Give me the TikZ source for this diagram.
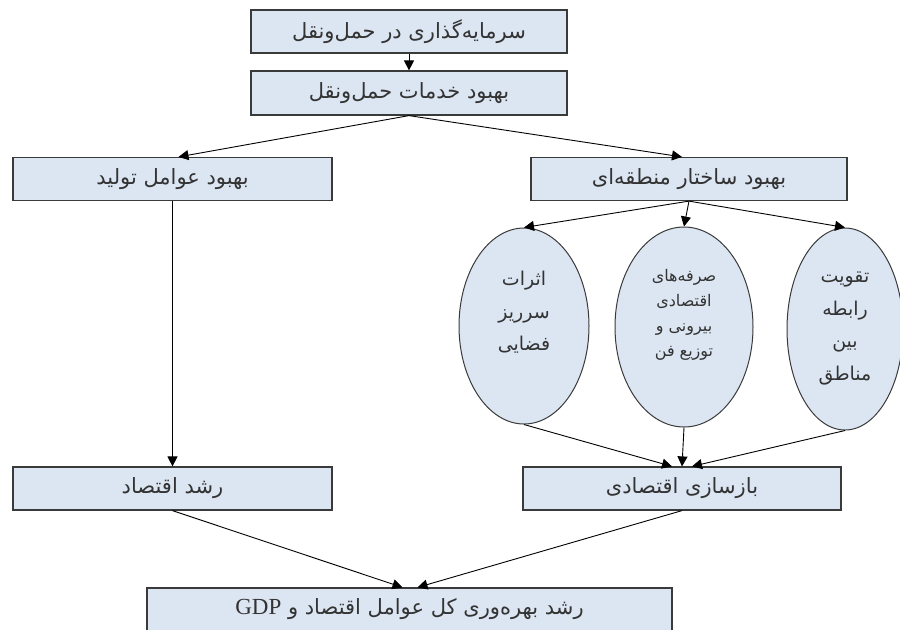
\documentclass[tikz,border=0pt]{standalone}
\usepackage{fontspec}
\setmainfont{Liberation Serif}
\newfontfamily\farsifont[Script=Arabic]{DejaVu Sans}
\usetikzlibrary{shapes.geometric,arrows.meta}
\TeXXeTstate=1
\newcommand{\fatxt}[1]{{\farsifont\beginR #1\endR}}
\definecolor{boxblue}{HTML}{DCE6F2}
\definecolor{edgegray}{HTML}{3A3A3A}
\definecolor{txtgray}{HTML}{333333}

\tikzset{
  box/.style={draw=edgegray, fill=boxblue, rectangle, line width=0.6pt,
    minimum height=21.5pt, inner sep=0pt, text=txtgray,
    font=\fontsize{10.5}{12}\selectfont},
  oval/.style={draw=edgegray, fill=boxblue, ellipse, line width=0.5pt, inner sep=0pt},
  ovaltext/.style={align=center, text=txtgray, inner sep=0pt},
  arr/.style={-{Triangle[length=5pt,width=5pt]}, line width=0.45pt, black},
}

\begin{document}
\begin{tikzpicture}[x=0.5pt, y=-0.5pt]
    \useasboundingbox (0,0) rectangle (900,629);
    \node[box, minimum width=158pt] (invest) at (409,31.5)
    {\fatxt{سرمایه‌گذاری در حمل‌ونقل}};
    \node[box, minimum width=158pt, minimum height=22pt] (service) at (409,93)
    {\fatxt{بهبود خدمات حمل‌ونقل}};
    \node[box, minimum width=159.5pt] (factor) at (172.5,179)
    {\fatxt{بهبود عوامل تولید}};
    \node[box, minimum width=158pt] (region) at (689,179)
    {\fatxt{بهبود ساختار منطقه‌ای}};

    % the three ellipses
    \node[oval, minimum width=65pt, minimum height=98pt] (spill) at (524,326) {};
    \node[oval, minimum width=69pt, minimum height=100pt] (extern) at (684,327) {};
    \node[oval, minimum width=58pt, minimum height=101pt] (link) at (845,329) {};
    \node[ovaltext, font=\fontsize{9.5}{16.25}\selectfont] (spilltxt) at (524,312.5)
    {\fatxt{اثرات}\\\fatxt{سرریز}\\\fatxt{فضایی}};
    \node[ovaltext, font=\fontsize{8}{12.5}\selectfont] (externtxt) at (684,314.5)
    {\fatxt{صرفه‌های}\\\fatxt{اقتصادی}\\\fatxt{بیرونی و}\\\fatxt{توزیع فن}};
    \node[ovaltext, font=\fontsize{9.5}{16.25}\selectfont] (linktxt) at (845,328.5)
    {\fatxt{تقویت}\\\fatxt{رابطه}\\\fatxt{بین}\\\fatxt{مناطق}};

    \node[box, minimum width=159.5pt] (growth) at (172.5,488.5)
    {\fatxt{رشد اقتصاد}};
    \node[box, minimum width=159pt] (rebuild) at (682,488.5)
    {\fatxt{بازسازی اقتصادی}};
    \node[box, minimum width=262.5pt] (tfp) at (409.5,609.5)
    {\farsifont\beginR رشد بهره‌وری کل عوامل اقتصاد و \beginL{\rmfamily\fontsize{11.5}{12}\selectfont GDP}\endL\endR};

    % connectors
    \draw[arr] (invest.south) -- (service.north);
    \draw[arr] (service.south) -- ([xshift=3pt]factor.north);
    \draw[arr] (service.south) -- ([xshift=-3.5pt]region.north);
    \draw[arr] (region.south) -- (spill.north);
    \draw[arr] (region.south) -- (extern.north);
    \draw[arr] (region.south) -- (link.north);
    \draw[arr] (factor.south) -- (growth.north);
    \draw[arr] (spill.south) -- ([xshift=-5pt]rebuild.north);
    \draw[arr] (extern.south) -- (rebuild.north);
    \draw[arr] (link.south) -- ([xshift=5pt]rebuild.north);
    \draw[arr] (growth.south) -- ([xshift=-3.5pt]tfp.north);
    \draw[arr] (rebuild.south) -- ([xshift=4pt]tfp.north);
\end{tikzpicture}
\end{document}
